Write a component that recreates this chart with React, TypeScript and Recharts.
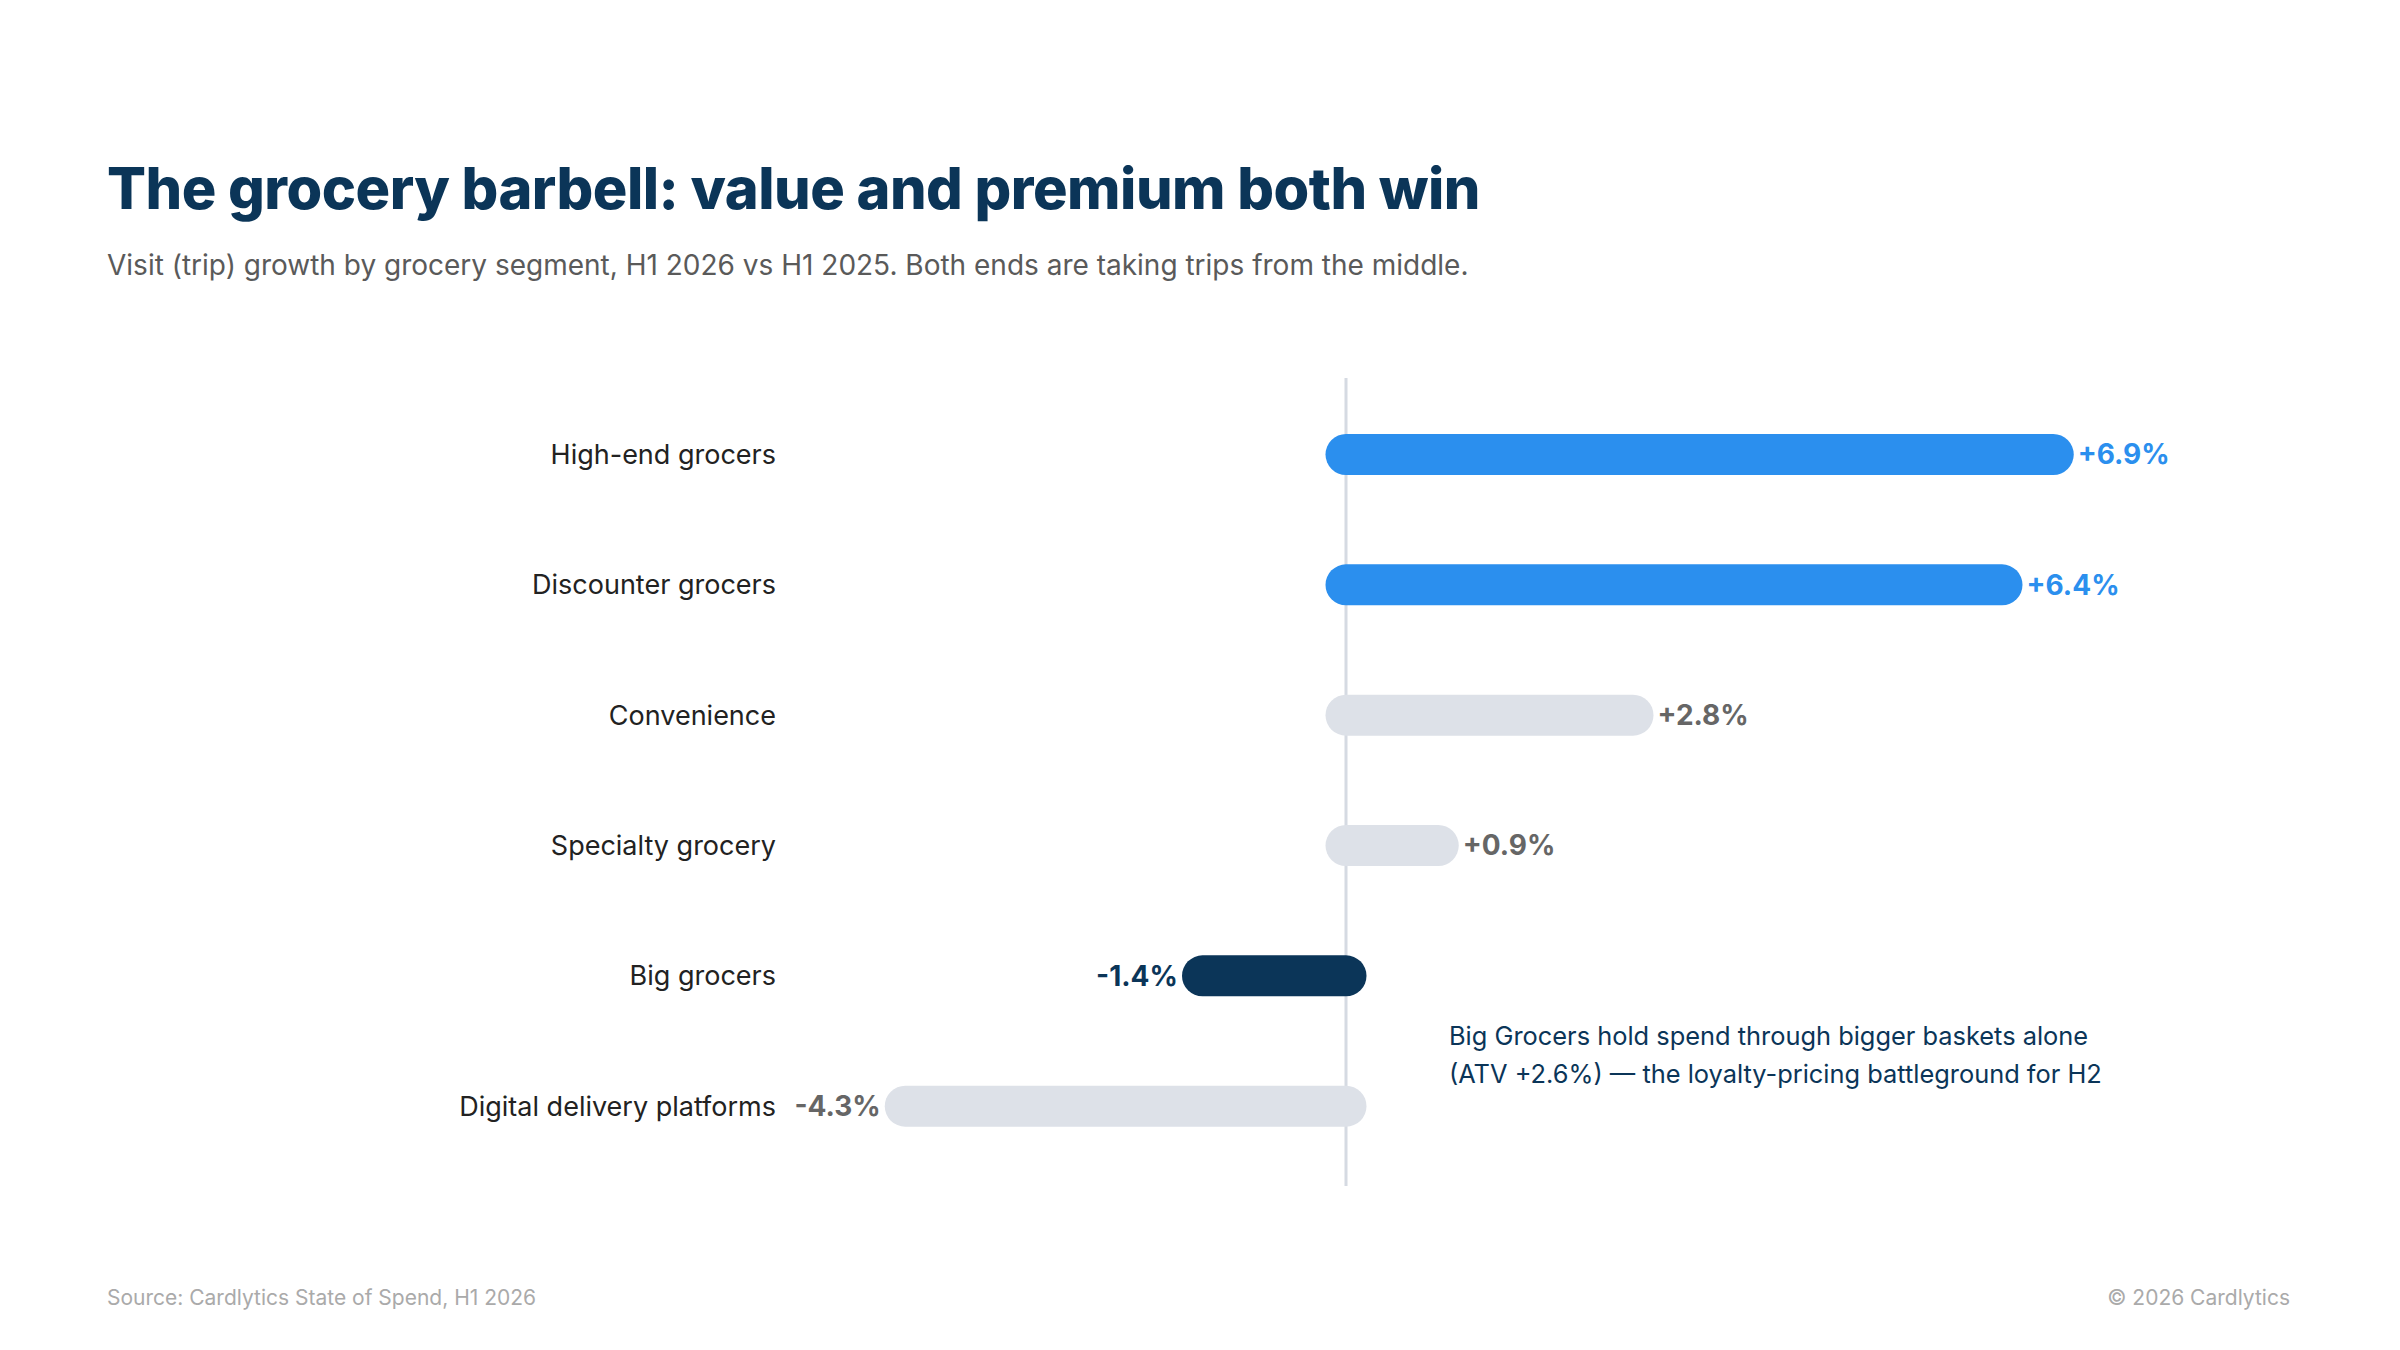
import React from "react";
import { BarChart, Bar, XAxis, YAxis, ReferenceLine, LabelList, Cell } from "recharts";

const categories = ["High-end grocers", "Discounter grocers", "Convenience", "Specialty grocery", "Big grocers", "Digital delivery platforms"];
const values = [6.9, 6.4, 2.8, 0.9, -1.4, -4.3];
const valueLabels = ["+6.9%", "+6.4%", "+2.8%", "+0.9%", "-1.4%", "-4.3%"];
const barColors = ["#2B8FEE", "#2B8FEE", "#DDE1E8", "#DDE1E8", "#0B3558", "#DDE1E8"];
const labelColors = ["#2B8FEE", "#2B8FEE", "#666666", "#666666", "#0B3558", "#666666"];

const data = categories.map((c, i) => ({ name: c, value: values[i], color: barColors[i] }));

const FONT = "Inter, 'Noto Sans', sans-serif";
const R = 20.5;
const MARGIN = { left: 833.5, right: 234, top: 389, bottom: 179 };

const BarShape = (p: any) => {
  const left = Math.min(p.x, p.x + p.width);
  const right = Math.max(p.x, p.x + p.width);
  const cy = p.y + p.height / 2;
  return <rect x={left - R} y={cy - R} width={right - left + 2 * R} height={2 * R} rx={R} ry={R} fill={p.fill} />;
};

const ValueLabel = (p: any) => {
  const i = p.index;
  const left = Math.min(p.x, p.x + p.width);
  const right = Math.max(p.x, p.x + p.width);
  const cy = p.y + p.height / 2;
  const neg = values[i] < 0;
  return (
    <text x={neg ? left - R - 4 : right + R + 4} y={cy} dy="0.35em" textAnchor={neg ? "end" : "start"}
      fontFamily={FONT} fontWeight={700} fontSize={28} fill={labelColors[i]}>{valueLabels[i]}</text>
  );
};

const CatLabel = (p: any) => {
  const cy = p.y + p.height / 2;
  return <text x={776} y={cy} dy="0.35em" textAnchor="end" fontFamily={FONT} fontSize={27} fill="#222">{categories[p.index]}</text>;
};

const ZeroLine = (p: any) => {
  const x = p.x1 ?? p.x;
  return <line x1={x} x2={x} y1={378} y2={1186} stroke="#D5DAE2" strokeWidth={3} />;
};

export default function App() {
  return (
    <div style={{ position: "absolute", left: 0, top: 0, width: 2400, height: 1350, background: "#fff", fontFamily: FONT }}>
      <div style={{ position: "absolute", left: 107, top: 153, fontSize: 57.7, fontWeight: 800, color: "#0B3558", letterSpacing: -0.5 }}>
        The grocery barbell: value and premium both win
      </div>
      <div style={{ position: "absolute", left: 107, top: 248, fontSize: 28, color: "#5a5a5a" }}>
        Visit (trip) growth by grocery segment, H1 2026 vs H1 2025. Both ends are taking trips from the middle.
      </div>
      <div style={{ position: "absolute", left: 0, top: 0 }}>
        <BarChart width={2400} height={1350} data={data} layout="vertical" margin={MARGIN}>
          <XAxis type="number" domain={[-5, 8]} hide />
          <YAxis type="category" dataKey="name" hide />
          <Bar dataKey="value" barSize={41} fill="none" isAnimationActive={false} />
          <ReferenceLine x={0} shape={ZeroLine} />
        </BarChart>
      </div>
      <div style={{ position: "absolute", left: 0, top: 0 }}>
        <BarChart width={2400} height={1350} data={data} layout="vertical" margin={MARGIN}>
          <XAxis type="number" domain={[-5, 8]} hide />
          <YAxis type="category" dataKey="name" hide />
          <Bar dataKey="value" barSize={41} shape={BarShape} isAnimationActive={false}>
            {data.map((d, i) => <Cell key={i} fill={d.color} />)}
            <LabelList dataKey="value" content={ValueLabel} />
            <LabelList dataKey="name" content={CatLabel} />
          </Bar>
        </BarChart>
      </div>
      <div style={{ position: "absolute", left: 1449, top: 1017, fontSize: 25.4, lineHeight: "38px", color: "#0B3558" }}>
        Big Grocers hold spend through bigger baskets alone<br />(ATV +2.6%) — the loyalty-pricing battleground for H2
      </div>
      <div style={{ position: "absolute", left: 107, top: 1285, fontSize: 21, color: "#aaaaaa" }}>Source: Cardlytics State of Spend, H1 2026</div>
      <div style={{ position: "absolute", right: 110, top: 1285, fontSize: 21, color: "#aaaaaa" }}>© 2026 Cardlytics</div>
    </div>
  );
}
